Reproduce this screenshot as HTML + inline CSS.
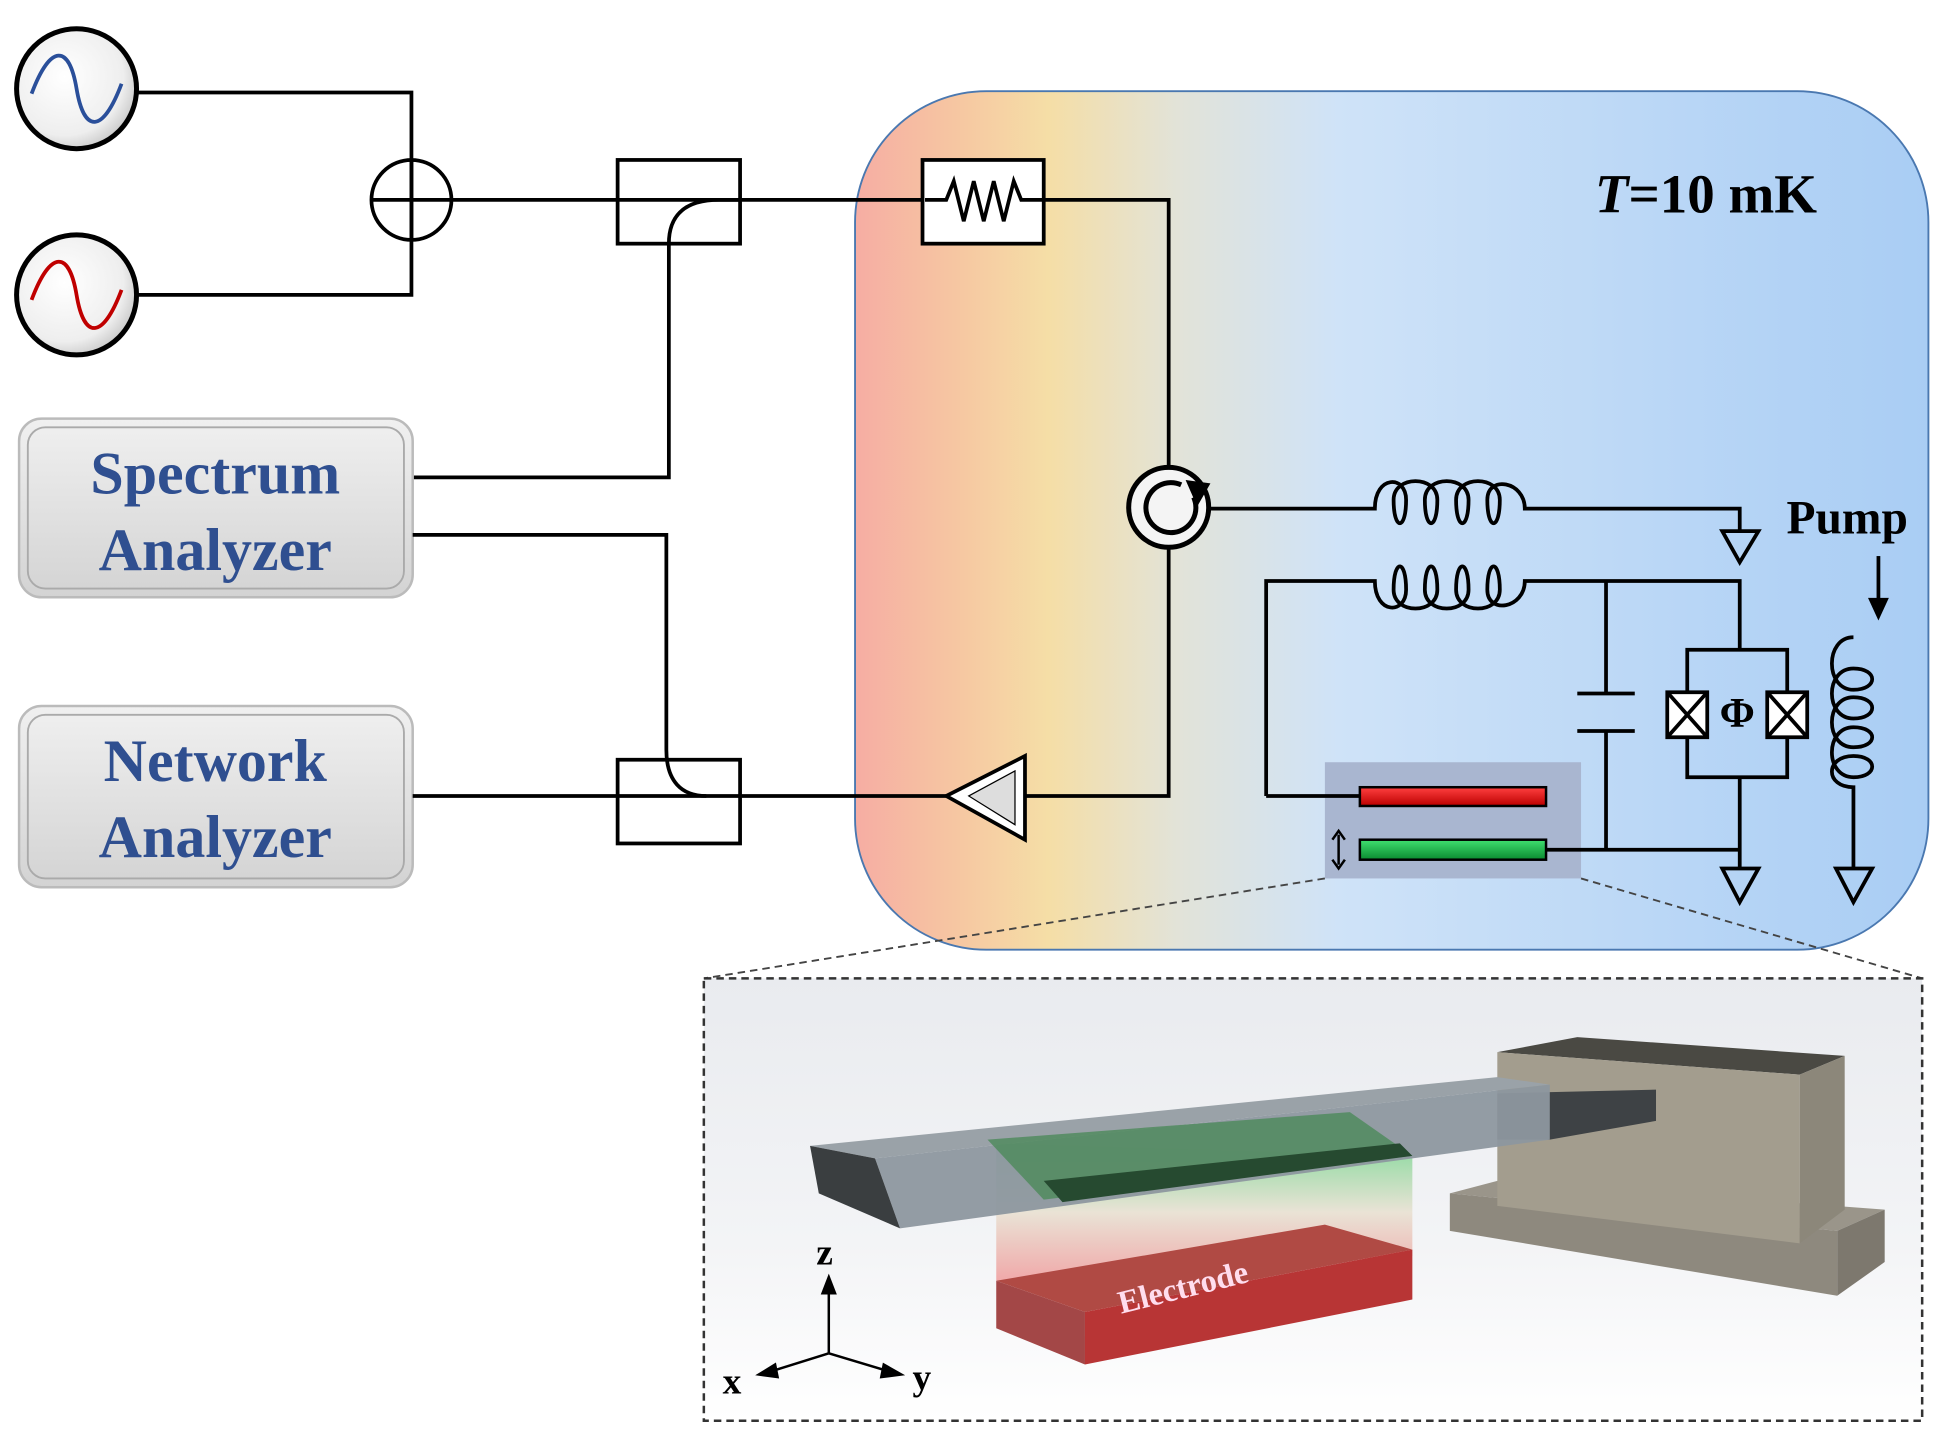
<!DOCTYPE html>
<html><head><meta charset="utf-8"><style>
html,body{margin:0;padding:0;background:#fff}
svg{display:block}
text{font-family:"Liberation Serif",serif;font-weight:bold}
</style></head><body>
<svg width="1940" height="1437" viewBox="0 0 1552 1150" xmlns="http://www.w3.org/2000/svg">
<defs>
<linearGradient id="fr" x1="0" x2="1" y1="0" y2="0">
<stop offset="0" stop-color="#f6ada3"/><stop offset="0.1" stop-color="#f6c8a2"/><stop offset="0.18" stop-color="#f5dea6"/><stop offset="0.3" stop-color="#e2e3d8"/><stop offset="0.45" stop-color="#cfe3f8"/><stop offset="1" stop-color="#a9cdf4"/>
</linearGradient>
<radialGradient id="src" cx="0.4" cy="0.4" r="0.7"><stop offset="0" stop-color="#fff"/><stop offset="0.7" stop-color="#eee"/><stop offset="1" stop-color="#bbb"/></radialGradient>
<linearGradient id="box" x1="0" x2="0" y1="0" y2="1"><stop offset="0" stop-color="#f0f0f0"/><stop offset="1" stop-color="#d3d3d3"/></linearGradient>
<linearGradient id="bg3" x1="0" x2="0" y1="0" y2="1"><stop offset="0" stop-color="#e9ebef"/><stop offset="0.6" stop-color="#f3f4f6"/><stop offset="1" stop-color="#fff"/></linearGradient>
<linearGradient id="glow" x1="0" x2="0" y1="0" y2="1"><stop offset="0" stop-color="#5fd07a"/><stop offset="0.5" stop-color="#e6dcc8"/><stop offset="1" stop-color="#e88"/></linearGradient>
<linearGradient id="rb" x1="0" x2="0" y1="0" y2="1"><stop offset="0" stop-color="#ff4040"/><stop offset="1" stop-color="#b00"/></linearGradient>
<linearGradient id="gb" x1="0" x2="0" y1="0" y2="1"><stop offset="0" stop-color="#40e070"/><stop offset="1" stop-color="#0a8a30"/></linearGradient>
</defs>
<g fill="none" stroke="#000" stroke-width="3">
<rect x="684" y="73" width="859" height="687" rx="105" fill="url(#fr)" stroke="#4a78b0" stroke-width="1.5"/>
<circle cx="61" cy="71" r="48" fill="url(#src)" stroke-width="4"/>
<circle cx="61" cy="236" r="48" fill="url(#src)" stroke-width="4"/>
<path d="M25 75 C40 35,55 35,61 71 C67 107,82 107,97 67" stroke="#2a4f9a" stroke-width="3"/>
<path d="M25 240 C40 200,55 200,61 236 C67 272,82 272,97 232" stroke="#c00000" stroke-width="3"/>
<path d="M110 74 H329 V236 H110"/>
<circle cx="329" cy="160" r="32"/>
<path d="M297 160 H361 M329 128 V192"/>
<path d="M361 160 H740"/>
<rect x="494" y="128" width="98" height="67"/>
<path d="M592 160 H575 C545 160,535 175,535 195 V382 H330"/>
<rect x="15" y="335" width="315" height="143" rx="18" fill="url(#box)" stroke="#bbb" stroke-width="2"/>
<rect x="22" y="342" width="301" height="129" rx="14" stroke="#aaa" stroke-width="1.5"/>
<rect x="15" y="565" width="315" height="145" rx="18" fill="url(#box)" stroke="#bbb" stroke-width="2"/>
<rect x="22" y="572" width="301" height="131" rx="14" stroke="#aaa" stroke-width="1.5"/>
<path d="M330 428 H533 V600 C533 625,545 637,565 637"/>
<path d="M330 637 H760"/>
<rect x="494" y="608" width="98" height="67"/>
<rect x="738" y="128" width="97" height="67" fill="#fff"/>
<path d="M740 160 H757 L763 145 L771 177 L779 145 L787 177 L795 145 L803 177 L811 145 L817 160 H835"/>
<path d="M835 160 H935 V375 M935 437 V637 H820"/>
<circle cx="935" cy="406" r="32" fill="#f4f4f4" stroke-width="4"/>
<path d="M955 398 A20 20 0 1 1 945 388" stroke-width="4"/>
<path d="M951 386 L958 402 L966 388 Z" fill="#000"/>
<polygon points="820,605 820,672 757,637" fill="#fff"/>
<polygon points="812,617 812,660 775,637" fill="#ddd" stroke-width="1"/>
<path d="M967 407 H1100 C1100 380,1125 380,1125 400 C1125 425,1115 425,1115 400 C1115 380,1150 380,1150 400 C1150 425,1140 425,1140 400 C1140 380,1175 380,1175 400 C1175 425,1165 425,1165 400 C1165 380,1200 380,1200 400 C1200 425,1190 425,1190 400 C1190 380,1220 385,1220 407 H1392 V425"/>
<polygon points="1378,425 1407,425 1392,450"/>
<path d="M1013 637 V465 H1100 C1100 492,1125 492,1125 472 C1125 447,1115 447,1115 472 C1115 492,1150 492,1150 472 C1150 447,1140 447,1140 472 C1140 492,1175 492,1175 472 C1175 447,1165 447,1165 472 C1165 492,1200 492,1200 472 C1200 447,1190 447,1190 472 C1190 492,1220 487,1220 465 H1392 V520"/>
<path d="M1285 465 V555 M1262 555 H1308 M1262 585 H1308 M1285 585 V680"/>
<rect x="1350" y="520" width="80" height="102"/>
<path d="M1392 622 V695"/>
<polygon points="1378,695 1407,695 1392,722"/>
<rect x="1334" y="554" width="32" height="36" fill="#fff"/>
<path d="M1334 554 L1366 590 M1366 554 L1334 590"/>
<rect x="1414" y="554" width="32" height="36" fill="#fff"/>
<path d="M1414 554 L1446 590 M1446 554 L1414 590"/>
<path d="M1503 445 V488"/>
<polygon points="1497,480 1509,480 1503,493" fill="#000"/>
<path d="M1483 695 V630 C1460 630,1460 605,1483 605 C1503 605,1503 622,1483 622 C1460 622,1460 582,1483 582 C1503 582,1503 598,1483 598 C1460 598,1460 558,1483 558 C1503 558,1503 575,1483 575 C1460 575,1460 535,1483 535 C1503 535,1503 552,1483 552 C1460 552,1460 510,1483 510"/>
<polygon points="1469,695 1498,695 1483,722"/>
<rect x="1060" y="610" width="205" height="93" fill="#a9b6d0" stroke="none"/>
<path d="M1013 637 H1088"/>
<rect x="1088" y="630" width="149" height="15" fill="url(#rb)" stroke-width="2"/>
<rect x="1088" y="672" width="149" height="16" fill="url(#gb)" stroke-width="2"/>
<path d="M1237 680 H1392"/>
<path d="M1071 668 V692" stroke-width="2"/>
<path d="M1066 672 L1071 665 L1076 672 M1066 688 L1071 695 L1076 688" stroke-width="2"/>
<path d="M1060 703 L563 783 M1265 703 L1538 783" stroke="#444" stroke-width="1.5" stroke-dasharray="6 4"/>
<rect x="563" y="783" width="975" height="354" fill="url(#bg3)" stroke="#333" stroke-width="2" stroke-dasharray="6 4"/>
</g>
<g>
<polygon points="1160,955 1198,945 1508,968 1470,985" fill="#9a958a"/>
<polygon points="1160,955 1470,985 1470,1037 1160,985" fill="#8e897e"/>
<polygon points="1470,985 1508,968 1508,1010 1470,1037" fill="#7d786e"/>
<polygon points="1198,842 1262,830 1476,845 1440,860" fill="#4a4943"/>
<polygon points="1198,842 1440,860 1440,995 1198,965" fill="#a39d8e"/>
<polygon points="1440,860 1476,845 1476,968 1440,995" fill="#8c877a"/>
<polygon points="1198,875 1325,872 1325,897 1240,912 1198,912" fill="#3e4245"/>
<polygon points="797,915 1130,925 1130,1005 797,1025" fill="url(#glow)" opacity="0.7"/>
<polygon points="797,1025 1060,980 1130,1000 868,1050" fill="#b04a44"/>
<polygon points="797,1025 868,1050 868,1092 797,1063" fill="#a34747"/>
<polygon points="868,1050 1130,1000 1130,1040 868,1092" fill="#b83535"/>
<polygon points="648,917 1198,862 1240,868 700,927" fill="#9aa2a8"/>
<polygon points="700,927 1240,868 1240,912 720,983" fill="#8d979f" opacity="0.95"/>
<polygon points="648,917 700,927 720,983 655,955" fill="#3a3e40"/>
<polygon points="790,912 1080,890 1130,925 835,960" fill="#4c8a5a" opacity="0.8"/>
<polygon points="835,945 1120,915 1130,925 850,962" fill="#264a30"/>
<text x="890" y="1035" transform="rotate(-14 960 1015)" fill="#fde" font-size="26" font-weight="normal">Electrode</text>
<g stroke="#000" stroke-width="2" fill="#000">
<path d="M663 1083 V1030" fill="none"/><polygon points="658,1035 668,1035 663,1022"/>
<path d="M663 1083 L615 1098" fill="none"/><polygon points="620,1092 622,1102 607,1100"/>
<path d="M663 1083 L713 1098" fill="none"/><polygon points="707,1092 705,1102 721,1100"/>
</g>
<text x="653" y="1012" font-size="30">z</text>
<text x="578" y="1115" font-size="30">x</text>
<text x="730" y="1112" font-size="30">y</text>
</g>
<text x="172" y="395" text-anchor="middle" fill="#2f4f90" font-size="48">Spectrum</text>
<text x="172" y="456" text-anchor="middle" fill="#2f4f90" font-size="48">Analyzer</text>
<text x="172" y="625" text-anchor="middle" fill="#2f4f90" font-size="48">Network</text>
<text x="172" y="686" text-anchor="middle" fill="#2f4f90" font-size="48">Analyzer</text>
<text x="1365" y="170" text-anchor="middle" font-size="44"><tspan font-style="italic">T</tspan>=10 mK</text>
<text x="1478" y="427" text-anchor="middle" font-size="38">Pump</text>
<text x="1390" y="582" text-anchor="middle" font-size="34">Φ</text>
</svg>
</body></html>
